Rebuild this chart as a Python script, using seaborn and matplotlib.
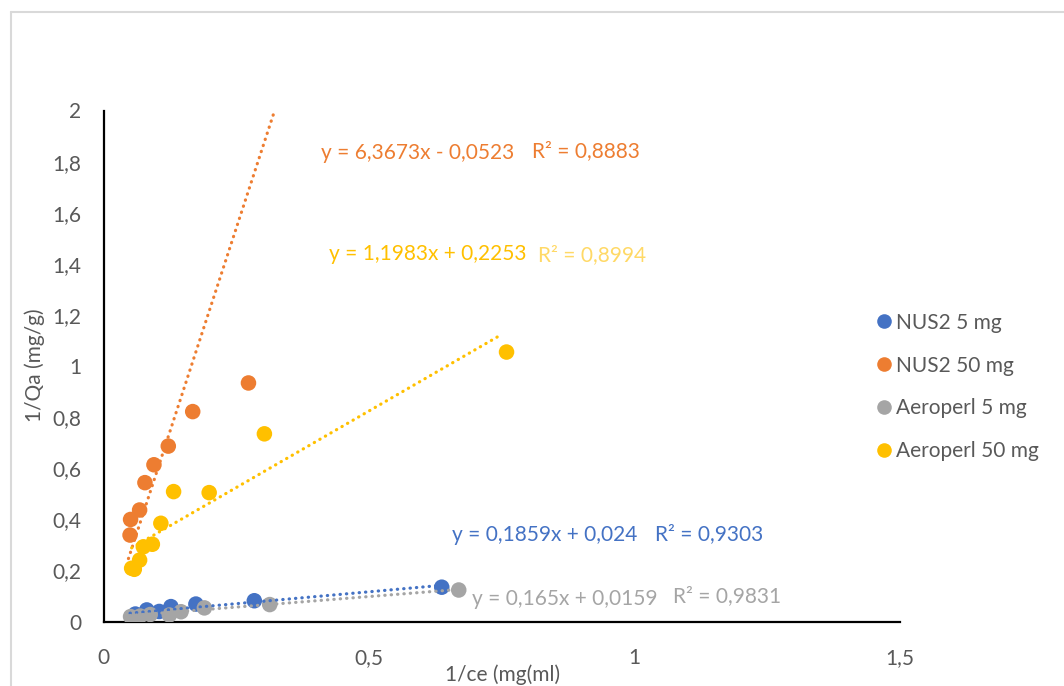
import numpy as np
import pandas as pd
import matplotlib
matplotlib.use("Agg")
import matplotlib.pyplot as plt
from matplotlib.lines import Line2D
import seaborn as sns

# ---------------- data ----------------
series_names = ["NUS2 5 mg", "NUS2 50 mg", "Aeroperl 5 mg", "Aeroperl 50 mg"]
series_colors = ["#4472C4", "#ED7D31", "#A5A5A5", "#FFC000"]

nus2_5_x = [0.060, 0.0815, 0.105, 0.127, 0.174, 0.284, 0.637]
nus2_5_y = [0.030, 0.046, 0.040, 0.059, 0.069, 0.082, 0.135]

nus2_50_x = [0.050, 0.051, 0.068, 0.078, 0.095, 0.122, 0.168, 0.273]
nus2_50_y = [0.339, 0.400, 0.437, 0.544, 0.614, 0.687, 0.822, 0.934]

aero_5_x = [0.051, 0.069, 0.088, 0.124, 0.146, 0.190, 0.313, 0.669]
aero_5_y = [0.020, 0.022, 0.028, 0.026, 0.039, 0.054, 0.067, 0.124]

aero_50_x = [0.053, 0.058, 0.068, 0.075, 0.092, 0.108, 0.132, 0.199, 0.303, 0.759]
aero_50_y = [0.209, 0.205, 0.241, 0.293, 0.303, 0.385, 0.509, 0.505, 0.735, 1.055]

# linear trendlines (slope, intercept) and R² as shown on the chart
trend_slope = [0.1859, 6.3673, 0.165, 1.1983]
trend_intercept = [0.024, -0.0523, 0.0159, 0.2253]
trend_r2 = [0.9303, 0.8883, 0.9831, 0.8994]
trend_x_start = [0.050, 0.047, 0.050, 0.053]
trend_x_end = [0.637, 0.330, 0.669, 0.746]

eq_labels = ["y = 0,1859x + 0,024", "y = 6,3673x - 0,0523",
             "y = 0,165x + 0,0159", "y = 1,1983x + 0,2253"]
r2_labels = ["R² = 0,9303", "R² = 0,8883", "R² = 0,9831", "R² = 0,8994"]

x_ticks = [0, 0.5, 1, 1.5]
x_ticklabels = ["0", "0,5", "1", "1,5"]
y_ticks = [0, 0.2, 0.4, 0.6, 0.8, 1.0, 1.2, 1.4, 1.6, 1.8, 2.0]
y_ticklabels = ["0", "0,2", "0,4", "0,6", "0,8", "1", "1,2", "1,4", "1,6", "1,8", "2"]

xs = [nus2_5_x, nus2_50_x, aero_5_x, aero_50_x]
ys = [nus2_5_y, nus2_50_y, aero_5_y, aero_50_y]
df = pd.concat([pd.DataFrame({"x": x, "y": y, "series": n})
                for x, y, n in zip(xs, ys, series_names)], ignore_index=True)

# ---------------- style ----------------
sns.set_theme(style="white")
plt.rcParams["font.family"] = ["Lato", "DejaVu Sans"]
TXT = "#595959"
FS = 15

W, H = 1064, 686
fig = plt.figure(figsize=(W / 100, H / 100), dpi=100)
L, R, B, T = 103.5, 900, 621.7, 110.5
ax = fig.add_axes([L / W, 1 - B / H, (R - L) / W, (B - T) / H])

palette = dict(zip(series_names, series_colors))
sns.scatterplot(data=df, x="x", y="y", hue="series", hue_order=series_names,
                palette=palette, s=125, edgecolor="none", linewidth=0,
                ax=ax, zorder=3, legend=False)

for i in range(4):
    tx = np.linspace(trend_x_start[i], trend_x_end[i], 50)
    ty = trend_slope[i] * tx + trend_intercept[i]
    ax.plot(tx, ty, color=series_colors[i], lw=2.3, linestyle=(0, (0.1, 1.9)),
            dash_capstyle="round", zorder=4)

ax.set_xlim(0, 1.5)
ax.set_ylim(0, 2)
ax.set_xticks(x_ticks)
ax.set_xticklabels(x_ticklabels)
ax.set_yticks(y_ticks)
ax.set_yticklabels(y_ticklabels)
ax.tick_params(axis="both", length=0, labelsize=FS, colors=TXT)
ax.tick_params(axis="x", pad=19)
ax.tick_params(axis="y", pad=16)
for s in ["top", "right"]:
    ax.spines[s].set_visible(False)
for s in ["left", "bottom"]:
    ax.spines[s].set_color("black")
    ax.spines[s].set_linewidth(1.6)
ax.grid(False)
ax.set_xlabel("")
ax.set_ylabel("")

fig.text(35 / W, 1 - 365 / H, "1/Qa (mg/g)", rotation=90, ha="center", va="center",
         fontsize=FS, color=TXT)
fig.text(503 / W, 1 - 675 / H, "1/ce (mg(ml)", ha="center", va="center",
         fontsize=FS, color=TXT)

# trendline labels
eq_pos = [(452, 535), (321, 153), (472, 599), (329, 254)]
r2_pos = [(655, 534), (532, 151), (673, 596), (538, 255)]
r2_colors = ["#4472C4", "#ED7D31", "#A5A5A5", "#FFD966"]
for i in range(4):
    fig.text(eq_pos[i][0] / W, 1 - eq_pos[i][1] / H, eq_labels[i], ha="left",
             va="center", fontsize=FS, color=series_colors[i])
    fig.text(r2_pos[i][0] / W, 1 - r2_pos[i][1] / H, r2_labels[i], ha="left",
             va="center", fontsize=FS, color=r2_colors[i])

# legend
handles = [Line2D([], [], marker="o", linestyle="none", markersize=10.5,
                  markerfacecolor=c, markeredgecolor="none") for c in series_colors]
leg = fig.legend(handles, series_names, loc="center left",
                 bbox_to_anchor=(877 / W, 1 - 387 / H), frameon=False,
                 fontsize=FS, labelspacing=1.1, handlelength=0.7,
                 handletextpad=0.2, borderpad=0, borderaxespad=0)
for t in leg.get_texts():
    t.set_color(TXT)

# chart-area border (top and left edges visible)
fig.add_artist(Line2D([11 / W, 1], [1 - 12 / H, 1 - 12 / H], transform=fig.transFigure,
                      color="#D9D9D9", lw=1.5))
fig.add_artist(Line2D([11 / W, 11 / W], [0, 1 - 12 / H], transform=fig.transFigure,
                      color="#D9D9D9", lw=1.5))

fig.savefig("out.png", dpi=100, facecolor="white")
